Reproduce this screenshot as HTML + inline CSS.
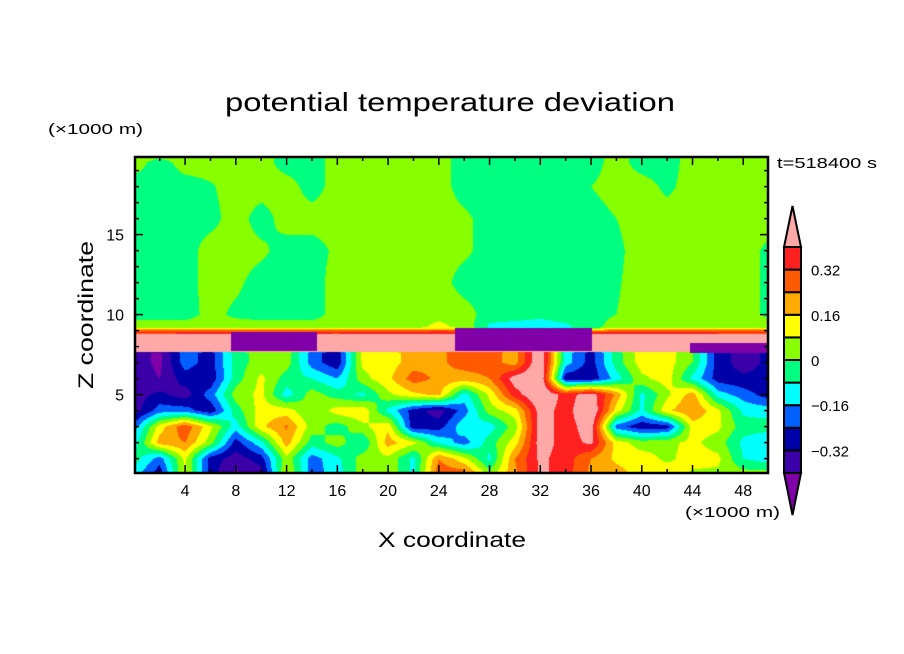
<!DOCTYPE html>
<html><head><meta charset="utf-8"><style>
html,body{margin:0;padding:0;background:#fff;width:904px;height:654px;overflow:hidden}
#wrap{position:relative;width:904px;height:654px}
canvas{position:absolute;left:135px;top:157px}
svg{position:absolute;left:0;top:0}
text{font-family:"Liberation Sans",sans-serif;fill:#000}
</style></head><body>
<div id="wrap">
<canvas id="field" width="633" height="316"></canvas>
<svg id="svg" width="904" height="654"></svg>
</div>
<script>
// ---- data ----
const xNodes = [0,2,4,6,8,10,12,14,16,18,20,22,24,26,28,30,32,34,36,38,40,42,44,46,48,50];
const zNodes = [0,1,2,3,4,5,6,7,7.6,8.9,9.2,10,12,14,16,18,19.5,20];
const fieldRows = [
 [-0.12,-0.3,0.1,-0.28,-0.42,-0.36,0.1,-0.2,-0.12,0.04,0.06,-0.1,0.3, 0.3,0.04,0.22,0.42,0.36,0.22,0.2,0.12,0.14,0.06,0.06,0.04,0.04],
 [-0.04,-0.2,0.1,-0.28,-0.36,-0.28,0.06,-0.2,-0.1,0.04,0.06,-0.1,0.24, 0.1,-0.1,0.24,0.42,0.36,0.24,0.14,0.12,0.06,0.12,0.1,-0.08,-0.12],
 [-0.12,0.2,0.24,0.04,-0.28,-0.1,0.2,-0.04,0.04,-0.08,0.2,0.1,-0.1, -0.2,-0.04,0.12,0.45,0.36,0.42,0.12,0.04,0.06,0.1,0.04,-0.1,-0.16],
 [-0.2,0.12,0.3,0.1,-0.12,0.14,0.25,0.04,-0.04,0.06,0.14,-0.3,-0.28, -0.1,-0.12,0.04,0.45,0.36,0.45,-0.2,-0.3,-0.28,0.12,0.1,-0.04,-0.04],
 [-0.36,-0.2,-0.2,-0.3,-0.04,0.12,0.12,0.0,0.12,0.14,-0.1,-0.28,-0.36, -0.2,0.04,0.12,0.45,0.36,0.5,0.12,-0.1,0.14,0.24,0.1,-0.1,-0.12],
 [-0.36,-0.3,-0.36,-0.2,0.04,0.1,-0.12,0.04,-0.04,-0.1,0.06,0.14,0.18, -0.12,0.1,0.36,0.5,0.36,0.45,0.22,-0.1,0.06,0.2,-0.12,-0.2,-0.28],
 [-0.36,-0.4,-0.28,-0.3,-0.04,0.1,-0.04,-0.08,-0.16,0.05,0.14,0.28,0.22, 0.2,0.24,0.45,0.5,-0.3,-0.3,-0.12,0.06,0.12,-0.1,-0.28,-0.3,-0.3],
 [-0.36,-0.42,-0.2,-0.28,-0.04,0.04,0.04,-0.2,-0.3,0.1,0.12,0.2,0.22, 0.28,0.28,0.2,0.5,-0.12,-0.28,-0.04,0.12,0.12,0.0,-0.28,-0.36,-0.3],
 [-0.36,-0.42,-0.2,-0.28,-0.04,0.04,0.04,-0.2,-0.3,0.1,0.12,0.2,0.22, 0.28,0.28,0.2,0.5,-0.12,-0.28,-0.04,0.12,0.12,0.0,-0.28,-0.36,-0.3],
 [0.36,0.36,0.36,0.36,0.36,0.36,0.36,0.36,0.36,0.36,0.36,0.36,0.36, 0.36,0.36,0.36,0.36,0.36,0.36,0.36,0.36,0.36,0.36,0.36,0.36,0.36],
 [0.05,0.05,0.05,0.05,0.05,0.05,0.05,0.05,0.05,0.05,0.05,0.06,0.1, 0.06,-0.1,-0.12,-0.12,-0.1,-0.04,0.05,0.05,0.05,0.05,0.05,0.05,0.05],
 [-0.04,-0.04,-0.04,0.03,-0.02,-0.04,-0.04,-0.04,0.04,0.04,0.04,0.04,0.06, 0.04,-0.04,-0.04,-0.06,-0.04,-0.04,0.0,0.04,0.04,0.04,0.04,0.04,-0.02],
 [-0.04,-0.04,-0.04,0.04,0.02,-0.04,-0.04,-0.04,0.04,0.04,0.04,0.04,0.04, -0.04,-0.04,-0.04,-0.04,-0.04,-0.04,-0.01,0.04,0.04,0.04,0.04,0.04,-0.02],
 [-0.04,-0.04,-0.04,0.04,0.04,0.02,-0.04,-0.04,0.02,0.04,0.04,0.04,0.04, 0.02,-0.04,-0.04,-0.04,-0.04,-0.04,-0.02,0.04,0.04,0.04,0.04,0.04,-0.02],
 [-0.04,-0.04,-0.04,-0.03,0.04,-0.04,0.04,0.04,0.04,0.04,0.04,0.04,0.04, 0.02,-0.04,-0.04,-0.04,-0.04,-0.04,0.0,0.04,0.04,0.04,0.04,0.04,0.04],
 [-0.04,-0.04,-0.04,-0.01,0.04,0.04,0.04,-0.04,0.04,0.04,0.04,0.04,0.04, -0.04,-0.04,-0.04,-0.04,-0.04,0.0,0.04,0.04,-0.02,0.04,0.04,0.04,0.04],
 [0.04,-0.04,0.04,0.04,0.04,0.04,-0.04,-0.04,0.04,0.04,0.04,0.04,0.04, -0.04,-0.04,-0.04,-0.04,-0.04,-0.04,0.04,-0.04,-0.04,0.04,0.04,0.04,0.04],
 [0.04,0.04,0.04,0.04,0.04,0.04,-0.04,-0.04,0.04,0.04,0.04,0.04,0.04, -0.04,-0.04,-0.04,-0.04,-0.04,-0.04,0.04,-0.04,-0.04,0.04,0.04,0.04,0.04]
];
// inversion band (pink) with cold (purple) blobs
const bandBottom = 7.65, bandTop = 8.8, bandValue = 0.5;
const blobStart = [7.6, 25.3, 43.8];
const blobEnd   = [14.4, 36.1, 50];
const blobBottom = [7.7, 7.7, 7.6];
const blobTop    = [8.9, 9.15, 8.25];
const blobValue = -0.5;

const levels = [-0.4,-0.32,-0.24,-0.16,-0.08,0,0.08,0.16,0.24,0.32,0.4];
const levelColors = ["#8000a8","#3c00a8","#0000a8","#0060ff","#00ffff","#00ff80","#88ff00","#ffff00","#ffaa00","#ff5a00","#ff2020","#ffa8a8"];
const xTickMajor = [4,8,12,16,20,24,28,32,36,40,44,48];
const zTickMajor = [5,10,15];
const cbLabels = [0.32,0.16,0,-0.16,-0.32];
const cbLabelText = ["0.32","0.16","0","\u22120.16","\u22120.32"];

// ---- axes ----
const PX0=135, PX1=768, PY0=157, PY1=473;
const XMIN=0.05, XMAX=49.95, ZMIN=0.1, ZMAX=19.85;
const sx = x => PX0 + (x-XMIN)/(XMAX-XMIN)*(PX1-PX0);
const sz = z => PY1 - (z-ZMIN)/(ZMAX-ZMIN)*(PY1-PY0);
const CBY0=247, CBY1=473;
const scb = v => CBY1 - (v-levels[0])/(levels[levels.length-1]-levels[0])*(CBY1-CBY0);

function hexToRgb(h){return [parseInt(h.slice(1,3),16),parseInt(h.slice(3,5),16),parseInt(h.slice(5,7),16)];}
const rgbs = levelColors.map(hexToRgb);
function sample(x,z){
  for(let b=0;b<blobStart.length;b++){
    if(x>=blobStart[b]&&x<=blobEnd[b]&&z>=blobBottom[b]&&z<=blobTop[b]) return blobValue;
  }
  if(z>=bandBottom&&z<=bandTop) return bandValue;
  let i=0; while(i<xNodes.length-2 && x>xNodes[i+1]) i++;
  let j=0; while(j<zNodes.length-2 && z>zNodes[j+1]) j++;
  const tx=Math.min(1,Math.max(0,(x-xNodes[i])/(xNodes[i+1]-xNodes[i])));
  const tz=Math.min(1,Math.max(0,(z-zNodes[j])/(zNodes[j+1]-zNodes[j])));
  const a=fieldRows[j][i],b=fieldRows[j][i+1],c=fieldRows[j+1][i],d=fieldRows[j+1][i+1];
  return (a*(1-tx)+b*tx)*(1-tz)+(c*(1-tx)+d*tx)*tz;
}
function colorIdx(v){let k=0; while(k<levels.length && v>=levels[k]) k++; return k;}

const cv=document.getElementById('field'); const ctx=cv.getContext('2d');
const W=cv.width,H=cv.height; const img=ctx.createImageData(W,H);
for(let py=0;py<H;py++){
  const z = ZMIN + (PY1-(PY0+py+0.5))/(PY1-PY0)*(ZMAX-ZMIN);
  for(let px=0;px<W;px++){
    const x = XMIN + ((PX0+px+0.5)-PX0)/(PX1-PX0)*(XMAX-XMIN);
    const c=rgbs[colorIdx(sample(x,z))]; const o=(py*W+px)*4;
    img.data[o]=c[0];img.data[o+1]=c[1];img.data[o+2]=c[2];img.data[o+3]=255;
  }
}
ctx.putImageData(img,0,0);

// ---- overlay ----
const svg=document.getElementById('svg'); const NS='http://www.w3.org/2000/svg';
function el(tag,attrs,parent){const e=document.createElementNS(NS,tag);for(const k in attrs)e.setAttribute(k,attrs[k]);(parent||svg).appendChild(e);return e;}
function txt(s,attrs){const e=el('text',attrs);e.textContent=s;return e;}

let t;
t=txt('potential temperature deviation',{x:225,y:111,'font-size':26,textLength:450,lengthAdjust:'spacingAndGlyphs'});


t=txt('(\u00d71000 m)',{x:48,y:134,'font-size':15,textLength:95,lengthAdjust:'spacingAndGlyphs'});


t=txt('t=518400 s',{x:777,y:168,'font-size':15,textLength:100,lengthAdjust:'spacingAndGlyphs'});


t=txt('(\u00d71000 m)',{x:685,y:517,'font-size':15,textLength:95,lengthAdjust:'spacingAndGlyphs'});


t=txt('X coordinate',{x:378,y:547,'font-size':21,textLength:148,lengthAdjust:'spacingAndGlyphs'});


t=txt('Z coordinate',{x:0,y:0,'font-size':21,textLength:148,lengthAdjust:'spacingAndGlyphs',transform:'translate(93,389) rotate(-90)'});



// ticks
const tg=el('g',{stroke:'#000','stroke-width':1.5});


for(let x=2;x<50;x+=2){
  const major = x%4===0, L = major?8:4, X=sx(x);
  el('line',{x1:X,y1:PY1,x2:X,y2:PY1-L},tg);
  el('line',{x1:X,y1:PY0,x2:X,y2:PY0+L},tg);
}
for(let z=1;z<20;z++){
  const major = z%5===0, L = major?8:4, Y=sz(z);
  el('line',{x1:PX0,y1:Y,x2:PX0+L,y2:Y},tg);
  el('line',{x1:PX1,y1:Y,x2:PX1-L,y2:Y},tg);
}
xTickMajor.forEach(v=>{
  const e=txt(String(v),{x:sx(v),y:496,'font-size':16,'text-anchor':'middle'});
  
  
});
zTickMajor.forEach(v=>{
  const e=txt(String(v),{x:124,y:sz(v)+6,'font-size':16,'text-anchor':'end'});
  
  
});
const frame=el('rect',{x:PX0,y:PY0,width:PX1-PX0,height:PY1-PY0,fill:'none',stroke:'#000','stroke-width':2.5});



// colorbar
const cb=el('g',{stroke:'#000','stroke-width':2});


const CX0=784, CX1=801;
for(let k=0;k<levels.length-1;k++){
  const r=el('rect',{x:CX0,y:scb(levels[k+1]),width:CX1-CX0,height:scb(levels[k])-scb(levels[k+1]),fill:levelColors[k+1]},cb);
  
  
}
const tri1=el('polygon',{points:`${CX0},${CBY0} ${CX1},${CBY0} ${(CX0+CX1)/2},206`,fill:levelColors[levelColors.length-1]},cb);


const tri2=el('polygon',{points:`${CX0},${CBY1} ${CX1},${CBY1} ${(CX0+CX1)/2},515`,fill:levelColors[0]},cb);


cbLabels.forEach((v,i)=>{
  const e=txt(cbLabelText[i],{x:811,y:scb(v)+6,'font-size':15});
  
  
});
</script>
</body></html>
